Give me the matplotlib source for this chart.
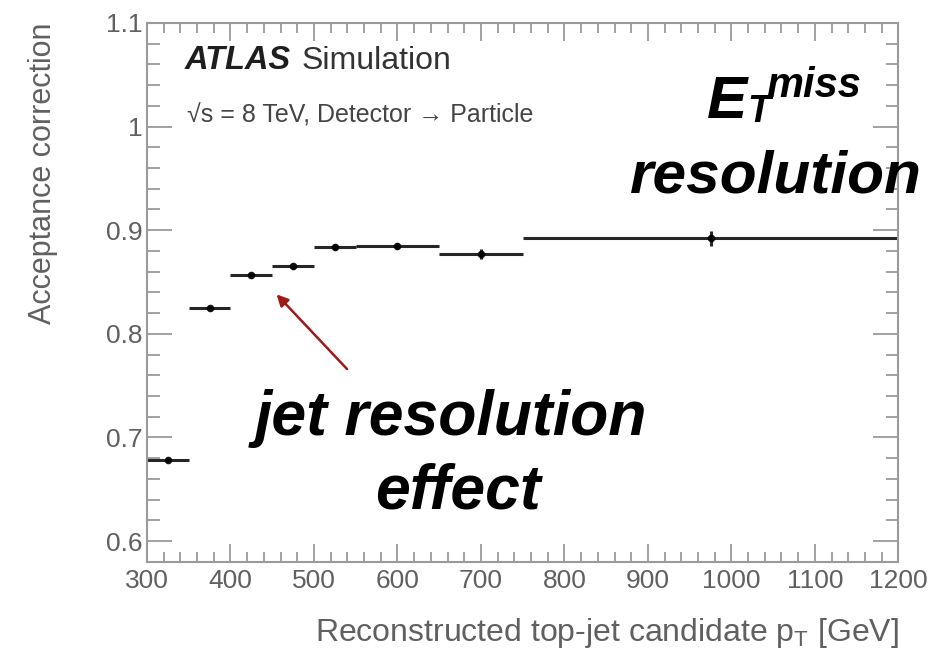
import matplotlib.pyplot as plt
from matplotlib.ticker import MultipleLocator

plt.rcParams['font.family'] = ['Liberation Sans', 'DejaVu Sans']

bin_lo = [300, 350, 400, 450, 500, 550, 650, 750]
bin_hi = [350, 400, 450, 500, 550, 650, 750, 1200]
acc = [0.678, 0.825, 0.857, 0.865, 0.884, 0.885, 0.877, 0.892]
acc_err = [0.002, 0.002, 0.002, 0.002, 0.003, 0.003, 0.005, 0.007]

centers = [(a + b) / 2 for a, b in zip(bin_lo, bin_hi)]
half_w = [(b - a) / 2 for a, b in zip(bin_lo, bin_hi)]

fig = plt.figure(figsize=(9.3, 6.54), dpi=100)
ax = fig.add_axes([0.158, 0.141, 0.808, 0.824])

ax.errorbar(centers, acc, xerr=half_w, yerr=acc_err, fmt='o', color='black',
            markersize=4.5, elinewidth=2.2, capsize=0, alpha=0.85)

ax.set_xlim(300, 1200)
ax.set_ylim(0.58, 1.1)
ax.xaxis.set_major_locator(MultipleLocator(100))
ax.xaxis.set_minor_locator(MultipleLocator(20))
ax.yaxis.set_minor_locator(MultipleLocator(0.02))
ax.set_yticks([0.6, 0.7, 0.8, 0.9, 1.0, 1.1])
ax.set_yticklabels(['0.6', '0.7', '0.8', '0.9', '1', '1.1'])

gray = '#606060'
for s in ax.spines.values():
    s.set_color('#9a9a9a')
    s.set_linewidth(1.5)
ax.tick_params(axis='both', which='both', direction='in', top=True, right=True,
               color='#9a9a9a', labelcolor=gray, labelsize=19, width=1.3)
ax.tick_params(axis='y', which='major', length=18, pad=3)
ax.tick_params(axis='y', which='minor', length=9)
ax.tick_params(axis='x', which='major', length=13, pad=5)
ax.tick_params(axis='x', which='minor', length=7)

ax.set_ylabel('Acceptance correction', fontsize=22, color=gray, loc='top', labelpad=35)
ax.set_xlabel('Reconstructed top-jet candidate p$_{\\mathregular{T}}$ [GeV]',
              fontsize=23, color=gray, loc='right', labelpad=17)

# ATLAS label
fig.text(0.199, 0.8945, 'ATLAS', fontsize=23.5, fontweight='bold', fontstyle='italic',
         color='#1e1e1e', va='baseline')
fig.text(0.3247, 0.8945, 'Simulation', fontsize=23, color='#333333', va='baseline')
fig.text(0.201, 0.812, '\u221as = 8 TeV, Detector \u2192 Particle', fontsize=18,
         color='#444444', va='baseline')

# annotations
big = dict(fontweight='bold', fontstyle='italic', color='black', va='baseline')
fig.text(0.485, 0.335, 'jet resolution', fontsize=45, ha='center', **big)
fig.text(0.4925, 0.2232, 'effect', fontsize=45, ha='center', **big)
fig.text(0.9914, 0.7064, 'resolution', fontsize=43.5, ha='right', **big)
fig.text(0.760, 0.8196, 'E', fontsize=43.5, ha='left', **big)
fig.text(0.8035, 0.8135, 'T', fontsize=27, ha='left', **big)
fig.text(0.8235, 0.8517, 'miss', fontsize=30, ha='left', **big)

ax.annotate('', xy=(453, 0.840), xytext=(542, 0.764),
            arrowprops=dict(arrowstyle='-|>', color='#a01818', lw=1.8,
                            mutation_scale=17))

plt.savefig('out.png', dpi=100)
